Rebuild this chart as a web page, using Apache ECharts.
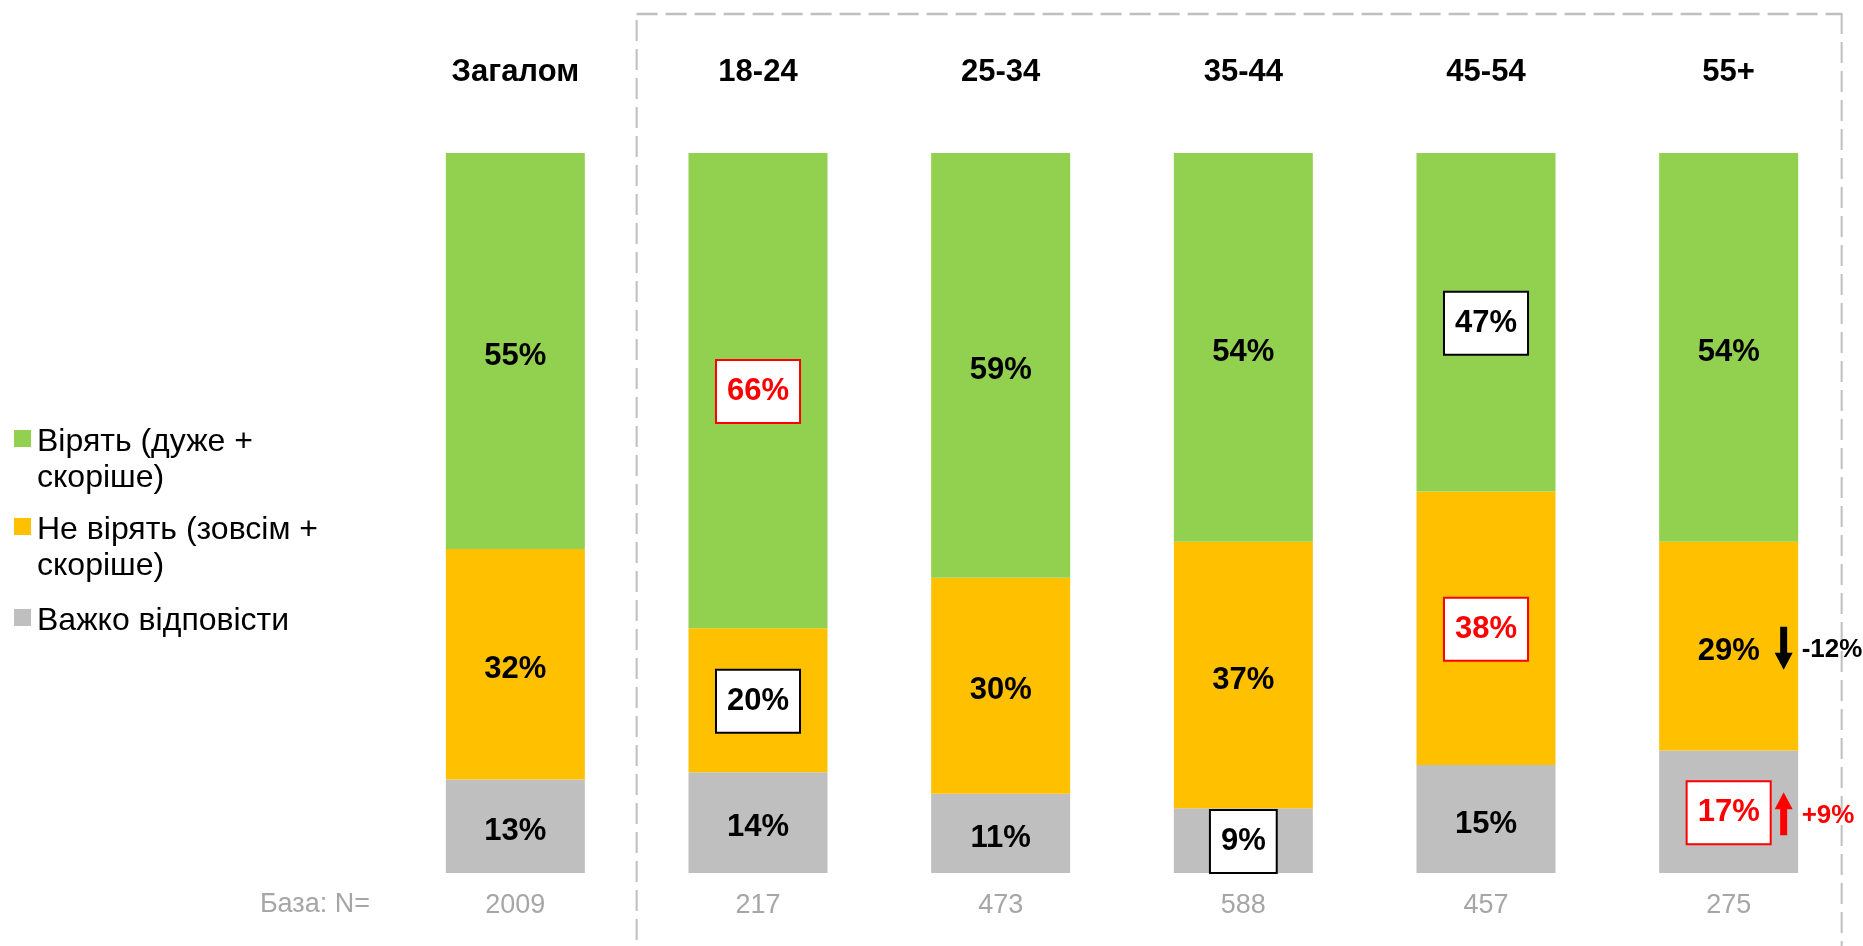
<!DOCTYPE html>
<html>
<head>
<meta charset="utf-8">
<script src="https://cdn.jsdelivr.net/npm/echarts@6/dist/echarts.min.js"></script>
<style>
  html, body { margin: 0; padding: 0; background: #ffffff; }
  #chart { width: 1863px; height: 946px; }
</style>
</head>
<body>
<div id="chart"></div>
<script>
// Age groups and sample sizes
const categories = ['Загалом', '18-24', '25-34', '35-44', '45-54', '55+'];
const baseCounts = ['2009', '217', '473', '588', '457', '275'];
const baseLabel = 'База: N=';

// Answer groups (top to bottom in the stack) and their legend lines
const seriesNames = ['Вірять (дуже + скоріше)', 'Не вірять (зовсім + скоріше)', 'Важко відповісти'];
const legendLines = [['Вірять (дуже +', 'скоріше)'], ['Не вірять (зовсім +', 'скоріше)'], ['Важко відповісти']];
const seriesColors = ['#92d050', '#ffc000', '#bfbfbf'];

// Shares, %
const believe    = [55, 66, 59, 54, 47, 54];
const disbelieve = [32, 20, 30, 37, 38, 29];
const unsure     = [13, 14, 11, 9, 15, 17];

// Significant differences vs. total: [answer index, age group index, direction]
const highlights = [[0, 1, 'up'], [1, 1, 'down'], [2, 3, 'down'], [0, 4, 'down'], [1, 4, 'up'], [2, 5, 'up']];
// Shifts vs. previous wave: [answer index, age group index, text, direction]
const shifts = [[1, 5, '-12%', 'down'], [2, 5, '+9%', 'up']];

const FONT = '"Liberation Sans", Arial, Helvetica, sans-serif';
const values = [believe, disbelieve, unsure];

function buildData(si) {
  return values[si].map((v, ci) => {
    const h = highlights.find(x => x[0] === si && x[1] === ci);
    if (!h) return v;
    const col = h[2] === 'up' ? '#ff0000' : '#000000';
    return {
      value: v,
      label: {
        color: col,
        offset: [0, 1],
        backgroundColor: '#ffffff',
        borderColor: col,
        borderWidth: 2,
        padding: [15, 10, 15, 10]
      }
    };
  });
}

// stacking order from the bottom: unsure, disbelieve, believe
const drawOrder = [2, 1, 0];
const series = drawOrder.map(si => ({
  name: seriesNames[si],
  type: 'bar',
  stack: 'total',
  barWidth: 139,
  xAxisIndex: 0,
  yAxisIndex: 0,
  itemStyle: { color: seriesColors[si] },
  label: {
    show: true,
    position: 'inside',
    offset: [0, 5],
    formatter: '{c}%',
    fontFamily: FONT,
    fontSize: 31,
    fontWeight: 'bold',
    color: '#000000'
  },
  emphasis: { disabled: true },
  data: buildData(si)
}));

const chart = echarts.init(document.getElementById('chart'), null, { renderer: 'canvas' });

const option = {
  animation: false,
  backgroundColor: '#ffffff',
  grid: { left: 394, right: 13, top: 153, bottom: 73, containLabel: false },
  xAxis: [
    {
      type: 'category',
      data: baseCounts,
      position: 'bottom',
      axisLine: { show: false },
      axisTick: { show: false },
      axisLabel: { margin: 19, fontFamily: FONT, fontSize: 27, color: '#a6a6a6' }
    },
    {
      type: 'category',
      data: categories,
      position: 'top',
      axisLine: { show: false },
      axisTick: { show: false },
      axisLabel: { margin: 65, fontFamily: FONT, fontSize: 31, fontWeight: 'bold', color: '#000000' }
    }
  ],
  yAxis: { type: 'value', min: 0, max: 100, show: false },
  series: series
};
chart.setOption(option);

// annotations positioned through the chart's own scales
function px(ci, val) {
  return chart.convertToPixel({ xAxisIndex: 0, yAxisIndex: 0 }, [ci, val]);
}
function segmentCenter(si, ci) {
  let base = 0;
  for (const k of drawOrder) {
    if (k === si) break;
    base += values[k][ci];
  }
  return base + values[si][ci] / 2;
}

const graphics = [];

// dashed frame around the age groups
const leftX = (px(0, 0)[0] + px(1, 0)[0]) / 2;
const rightX = px(5, 0)[0] + 113;
const dash = { stroke: '#bfbfbf', lineWidth: 2, lineDash: [21, 8] };
graphics.push({ type: 'line', shape: { x1: leftX, y1: 14, x2: rightX, y2: 14 }, style: Object.assign({}, dash, { lineWidth: 2.5 }), silent: true });
graphics.push({ type: 'line', shape: { x1: leftX, y1: 20, x2: leftX, y2: 960 }, style: dash, silent: true });
graphics.push({ type: 'line', shape: { x1: rightX, y1: 13, x2: rightX, y2: 960 }, style: dash, silent: true });

// base label row
const baseY = px(0, 0)[1] + 32;
graphics.push({
  type: 'text', x: 370, y: baseY,
  style: { text: baseLabel, fontFamily: FONT, fontSize: 27, fill: '#a6a6a6', align: 'right', verticalAlign: 'middle' },
  silent: true
});

// legend
const legendTops = [442, 530, 621];
legendLines.forEach((lines, i) => {
  graphics.push({ type: 'rect', shape: { x: 14, y: legendTops[i] - 12, width: 17, height: 17 }, style: { fill: seriesColors[i] }, silent: true });
  graphics.push({
    type: 'text', x: 37, y: legendTops[i] - 18,
    style: { text: lines.join('\n'), fontFamily: FONT, fontSize: 32, lineHeight: 36, fill: '#000000', align: 'left', verticalAlign: 'top' },
    silent: true
  });
});

// shift arrows
shifts.forEach(([si, ci, txt, dir]) => {
  const p = px(ci, segmentCenter(si, ci));
  const cx = p[0] + 55, cy = p[1] + 2;
  const col = dir === 'up' ? '#ff0000' : '#000000';
  const L = 43, head = 17, hw = 9, sw = 3.5;
  let pts;
  if (dir === 'down') {
    const top = cy - L / 2, tip = cy + L / 2, hb = tip - head;
    pts = [[cx - sw, top], [cx + sw, top], [cx + sw, hb], [cx + hw, hb], [cx, tip], [cx - hw, hb], [cx - sw, hb]];
  } else {
    const bot = cy + L / 2, tip = cy - L / 2, hb = tip + head;
    pts = [[cx - sw, bot], [cx + sw, bot], [cx + sw, hb], [cx + hw, hb], [cx, tip], [cx - hw, hb], [cx - sw, hb]];
  }
  graphics.push({ type: 'polygon', z: 100, shape: { points: pts }, style: { fill: col }, silent: true });
  graphics.push({
    type: 'text', z: 100, x: cx + 18, y: cy + 2,
    style: { text: txt, fontFamily: FONT, fontSize: 26, fontWeight: 'bold', fill: col, align: 'left', verticalAlign: 'middle' },
    silent: true
  });
});

chart.setOption({ graphic: { elements: graphics } });
</script>
</body>
</html>
